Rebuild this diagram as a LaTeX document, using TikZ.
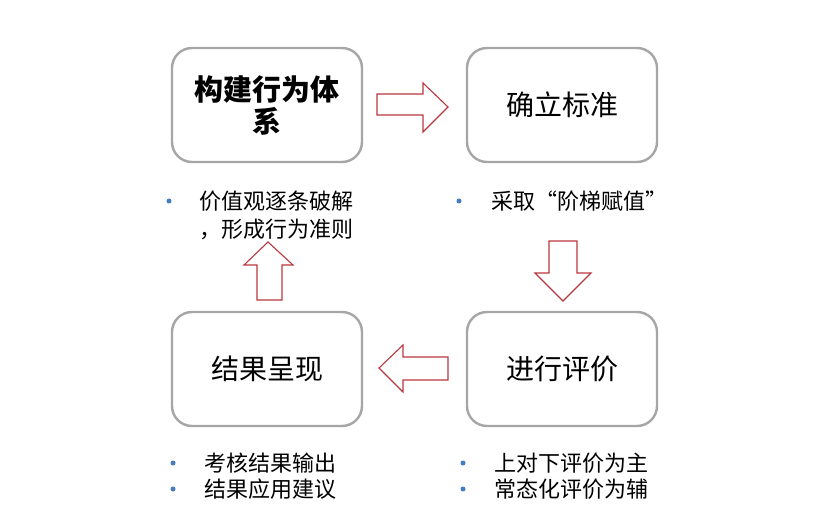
\documentclass[tikz,border=0pt]{standalone}
\usepackage{fontspec}
\setmainfont{Noto Sans CJK SC}
\definecolor{boxgray}{RGB}{166,166,166}
\definecolor{arrowred}{RGB}{185,55,62}
\definecolor{dotblue}{RGB}{70,125,190}
\tikzset{
  stagebox/.style={draw=boxgray, line width=2.4pt, rounded corners=20pt, fill=white,
    minimum width=190pt, minimum height=114pt, align=center, font=\fontsize{28}{32}\selectfont},
  blockarrow/.style={draw=arrowred, line width=1.1pt, fill=white, line join=miter},
  dot/.style={circle, fill=dotblue, inner sep=0pt, minimum size=5pt},
  item/.style={anchor=base west, inner sep=0pt, font=\fontsize{22}{26}\selectfont}
}
\begin{document}
\begin{tikzpicture}[x=1pt, y=-1pt]
    \useasboundingbox (0,0) rectangle (840,529);

    % four stages
    \node[stagebox, font=\bfseries\fontsize{29}{32}\selectfont] (build) at (267,105) {构建行为体\\系};
    \node[stagebox] (standard) at (562,105) {确立标准};
    \node[stagebox] (evaluate) at (562,369) {进行评价};
    \node[stagebox] (result) at (267,369) {结果呈现};

    % block arrows between stages
    \draw[blockarrow] (377,94) -- (423,94) -- (423,83) -- (448,107) -- (423,132)
      -- (423,115) -- (377,115) -- cycle;
    \draw[blockarrow] (549,241) -- (577,241) -- (577,273) -- (591,273) -- (563,301)
      -- (535,273) -- (549,273) -- cycle;
    \draw[blockarrow] (448,357) -- (403,357) -- (403,345) -- (379,368) -- (403,392)
      -- (403,380) -- (448,380) -- cycle;
    \draw[blockarrow] (257,300) -- (257,265) -- (244,265) -- (268,242) -- (293,265)
      -- (282,265) -- (282,300) -- cycle;

    % notes
    \node[dot] (d1) at (169,201) {};
    \node[item] (n1a) at (199,209.5) {价值观逐条破解};
    \node[item] (n1b) at (199,237.5) {，形成行为准则};
    \node[dot] (d2) at (459,201) {};
    \node[item] (n2) at (491,209.5) {采取“阶梯赋值”};
    \node[dot] (d3) at (463,463) {};
    \node[item] (n3a) at (494,471.5) {上对下评价为主};
    \node[dot] (d4) at (463,489) {};
    \node[item] (n3b) at (494,497.5) {常态化评价为辅};
    \node[dot] (d5) at (173,463) {};
    \node[item] (n4a) at (204,471.5) {考核结果输出};
    \node[dot] (d6) at (173,489) {};
    \node[item] (n4b) at (204,497.5) {结果应用建议};
\end{tikzpicture}
\end{document}
